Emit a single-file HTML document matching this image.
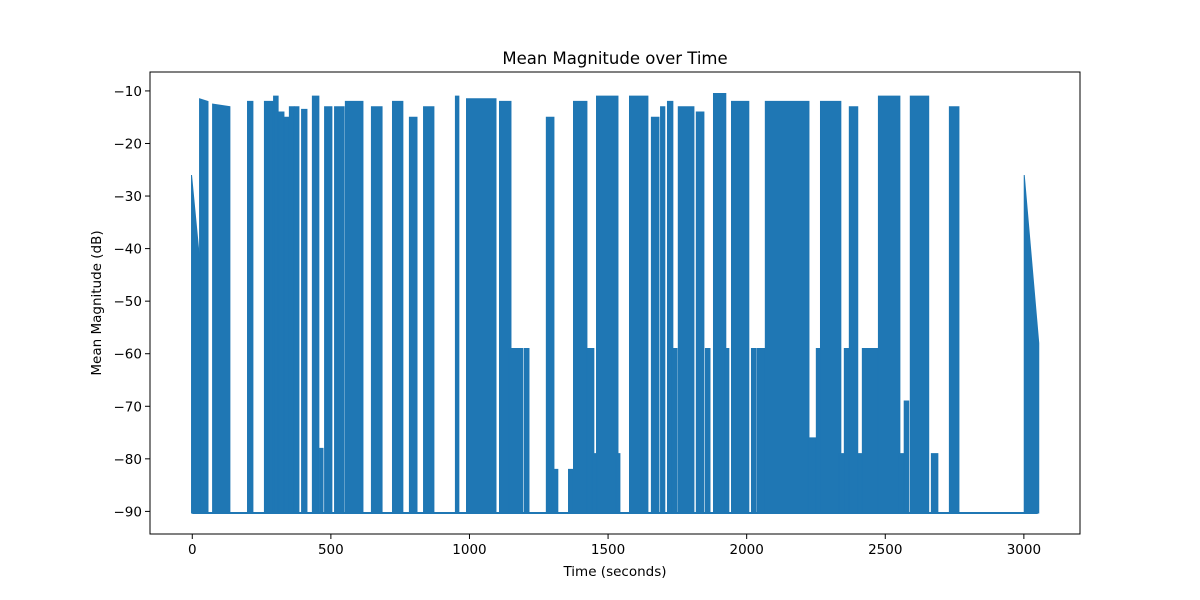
<!DOCTYPE html>
<html><head><meta charset="utf-8">
<style>
body{margin:0;background:#fff;}
svg{display:block;font-family:"DejaVu Sans","Liberation Sans",sans-serif;}
</style></head>
<body>
<svg id="chart" width="1200" height="600" viewBox="0 0 1200 600">
<rect x="0" y="0" width="1200" height="600" fill="#fff"/>
<g id="plot"></g>
<g id="axes"></g>
<text x="615" y="64" text-anchor="middle" font-size="16.5" fill="#000">Mean Magnitude over Time</text>
<text x="615" y="576" text-anchor="middle" font-size="13.5" fill="#000">Time (seconds)</text>
<text x="0" y="0" transform="translate(101,303) rotate(-90)" text-anchor="middle" font-size="13.5" fill="#000">Mean Magnitude (dB)</text>
</svg>
<script>
const burstStart = [0,29,76,202,263,296,314,335,353,371,397,436,462,480,516,555,649,725,786,837,952,992,1111,1147,1201,1280,1302,1360,1378,1428,1446,1461,1533,1580,1659,1692,1717,1735,1756,1821,1854,1883,1926,1948,2020,2041,2070,2225,2254,2269,2337,2355,2373,2406,2420,2478,2553,2571,2593,2669,2734,3004];
const burstEnd   = [29,54,133,216,289,307,328,346,364,382,411,454,469,501,545,613,682,757,808,869,959,1093,1147,1190,1212,1302,1316,1370,1421,1446,1457,1533,1540,1641,1681,1702,1731,1746,1807,1843,1865,1922,1933,2005,2031,2070,2222,2247,2265,2337,2370,2366,2398,2474,2474,2550,2564,2582,2654,2687,2763,3051];
const peakStart  = [-26,-11.5,-12.5,-12,-12,-11,-14,-15,-13,-13,-13.5,-11,-78,-13,-13,-12,-13,-12,-15,-13,-11,-11.5,-12,-59,-59,-15,-82,-82,-12,-59,-79,-11,-79,-11,-15,-13,-12,-59,-13,-14,-59,-10.5,-59,-12,-59,-59,-12,-76,-59,-12,-79,-59,-13,-79,-59,-11,-79,-69,-11,-79,-13,-26];
const peakEnd    = [-45,-12,-13,-12,-12,-11,-14,-15,-13,-13,-13.5,-11,-78,-13,-13,-12,-13,-12,-15,-13,-11,-11.5,-12,-59,-59,-15,-82,-82,-12,-59,-79,-11,-79,-11,-15,-13,-12,-59,-13,-14,-59,-10.5,-59,-12,-59,-59,-12,-76,-59,-12,-79,-59,-13,-79,-59,-11,-79,-69,-11,-79,-13,-58];
const baseline = -90.3;
const xTicks = [0,500,1000,1500,2000,2500,3000];
const yTicks = [-10,-20,-30,-40,-50,-60,-70,-80,-90];

const L=150,R=1080,T=72,B=534;
const xMin=-152.5,xMax=3202.5,yMin=-94.3,yMax=-6.4;
const xs=v=>L+(v-xMin)/(xMax-xMin)*(R-L);
const ys=v=>B-(v-yMin)/(yMax-yMin)*(B-T);
const NS='http://www.w3.org/2000/svg';
const plot=document.getElementById('plot');
const axes=document.getElementById('axes');
const C='#1f77b4';

const base=document.createElementNS(NS,'line');
base.setAttribute('x1',xs(0));base.setAttribute('x2',xs(3050));
base.setAttribute('y1',ys(baseline));base.setAttribute('y2',ys(baseline));
base.setAttribute('stroke',C);base.setAttribute('stroke-width','2');


plot.appendChild(base);

for(let i=0;i<burstStart.length;i++){
  const p=document.createElementNS(NS,'polygon');
  const x0=xs(burstStart[i])-0.75,x1=xs(burstEnd[i])+0.75;
  const yb=ys(baseline);
  p.setAttribute('points',`${x0},${yb} ${x0},${ys(peakStart[i])} ${x1},${ys(peakEnd[i])} ${x1},${yb}`);
  p.setAttribute('fill',C);p.setAttribute('stroke',C);p.setAttribute('stroke-width','1');
  
  
  plot.appendChild(p);
}

const frame=document.createElementNS(NS,'rect');
frame.setAttribute('x',L);frame.setAttribute('y',T);
frame.setAttribute('width',R-L);frame.setAttribute('height',B-T);
frame.setAttribute('fill','none');frame.setAttribute('stroke','#000');frame.setAttribute('stroke-width','1');


axes.appendChild(frame);

xTicks.forEach(v=>{
  const x=xs(v);
  const t=document.createElementNS(NS,'line');
  t.setAttribute('x1',x);t.setAttribute('x2',x);t.setAttribute('y1',B);t.setAttribute('y2',B+5);
  t.setAttribute('stroke','#000');
  
  
  axes.appendChild(t);
  const l=document.createElementNS(NS,'text');
  l.setAttribute('x',x);l.setAttribute('y',B+20);l.setAttribute('text-anchor','middle');l.setAttribute('font-size','13.5');
  l.textContent=v;
  
  
  axes.appendChild(l);
});
yTicks.forEach(v=>{
  const y=ys(v);
  const t=document.createElementNS(NS,'line');
  t.setAttribute('x1',L-5);t.setAttribute('x2',L);t.setAttribute('y1',y);t.setAttribute('y2',y);
  t.setAttribute('stroke','#000');
  
  
  axes.appendChild(t);
  const l=document.createElementNS(NS,'text');
  l.setAttribute('x',L-8);l.setAttribute('y',y+5);l.setAttribute('text-anchor','end');l.setAttribute('font-size','13.5');
  l.textContent='\u2212'+Math.abs(v);
  
  
  axes.appendChild(l);
});
</script>
</body></html>
